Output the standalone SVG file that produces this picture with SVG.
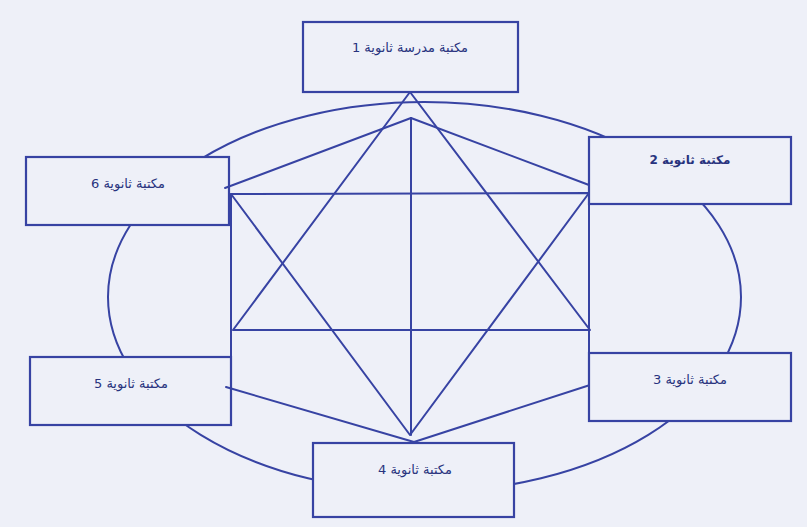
<svg xmlns="http://www.w3.org/2000/svg" width="807" height="527" viewBox="0 0 807 527">
<style>
.ln{stroke:#3743a3;stroke-width:2;fill:none;stroke-linecap:round;stroke-linejoin:round}
.box{stroke:#3743a3;stroke-width:2.2;fill:#eef0f8}
.t{font-family:"DejaVu Sans","Noto Sans",sans-serif;font-size:13px;fill:#28337e;text-anchor:middle}
.b{font-weight:bold;font-size:12px}
</style>
<rect x="0" y="0" width="807" height="527" fill="#eef0f8"/>
<ellipse class="ln" cx="424.5" cy="297" rx="316.5" ry="195"/>
<g id="connectors">
<polygon class="ln" points="410,92 233,330 590,330"/>
<polyline class="ln" points="231,194 589,193 410,435 231,194"/>
<line class="ln" x1="231" y1="194" x2="231" y2="357"/>
<line class="ln" x1="589" y1="193" x2="589" y2="353"/>
<line class="ln" x1="411" y1="118" x2="411" y2="435"/>
<line class="ln" x1="411" y1="118" x2="225" y2="188"/>
<line class="ln" x1="411" y1="118" x2="589" y2="185"/>
<line class="ln" x1="226" y1="387" x2="414" y2="442"/>
<line class="ln" x1="590" y1="385" x2="414" y2="442"/>
</g>
<g id="node1"><rect class="box" x="303" y="22" width="215" height="70"/><text class="t" x="410" y="52">مكتبة مدرسة ثانوية 1</text></g>
<g id="node2"><rect class="box" x="589" y="137" width="202" height="67"/><text class="t b" x="690" y="164">مكتبة ثانوية 2</text></g>
<g id="node3"><rect class="box" x="589" y="353" width="202" height="68"/><text class="t" x="690" y="384">مكتبة ثانوية 3</text></g>
<g id="node4"><rect class="box" x="313" y="443" width="201" height="74"/><text class="t" x="415" y="474">مكتبة ثانوية 4</text></g>
<g id="node5"><rect class="box" x="30" y="357" width="201" height="68"/><text class="t" x="131" y="388">مكتبة ثانوية 5</text></g>
<g id="node6"><rect class="box" x="26" y="157" width="203" height="68"/><text class="t" x="128" y="188">مكتبة ثانوية 6</text></g>
<g id="connectors-top">
<line class="ln" x1="226" y1="387" x2="231" y2="388.5"/>
<line class="ln" x1="225" y1="188" x2="229" y2="186.5"/>
</g>
</svg>
